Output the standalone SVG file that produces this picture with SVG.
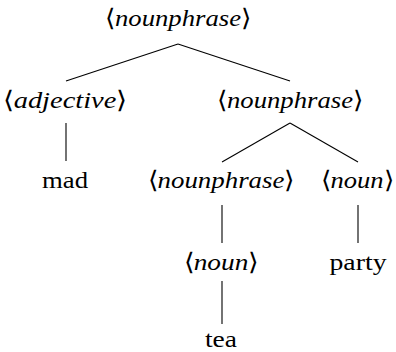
<svg xmlns="http://www.w3.org/2000/svg" width="396" height="352" viewBox="0 0 396 352">
<style>
.lbl{font-family:'Liberation Serif',serif;font-size:24px;fill:#000;text-anchor:middle}
.i{font-style:italic}
.edge{stroke:#000;stroke-width:1.1;fill:none}
</style>
<rect width="396" height="352" fill="#fff"/>
<g id="connectors">
<line class="edge" x1="178" y1="44" x2="66" y2="81"/>
<line class="edge" x1="178" y1="44" x2="290" y2="81"/>
<line class="edge" x1="66" y1="123" x2="66" y2="161"/>
<line class="edge" x1="290" y1="123" x2="222" y2="162"/>
<line class="edge" x1="290" y1="123" x2="358" y2="162"/>
<line class="edge" x1="222" y1="205" x2="222" y2="243"/>
<line class="edge" x1="358" y1="205" x2="358" y2="243"/>
<line class="edge" x1="222" y1="281" x2="222" y2="324"/>
</g>
<g font-family="Liberation Serif, serif" font-size="24">
<g id="n-root"><text class="lbl" x="178" y="26" textLength="146" lengthAdjust="spacingAndGlyphs">⟨<tspan class="i">nounphrase</tspan>⟩</text></g>
<g id="n-adjective"><text class="lbl" x="65" y="108" textLength="124" lengthAdjust="spacingAndGlyphs">⟨<tspan class="i">adjective</tspan>⟩</text></g>
<g id="n-nounphrase1"><text class="lbl" x="290" y="108" textLength="146" lengthAdjust="spacingAndGlyphs">⟨<tspan class="i">nounphrase</tspan>⟩</text></g>
<g id="n-mad"><text class="lbl" x="65" y="188" textLength="46" lengthAdjust="spacingAndGlyphs">mad</text></g>
<g id="n-nounphrase2"><text class="lbl" x="221" y="188" textLength="147" lengthAdjust="spacingAndGlyphs">⟨<tspan class="i">nounphrase</tspan>⟩</text></g>
<g id="n-noun1"><text class="lbl" x="357" y="188" textLength="73" lengthAdjust="spacingAndGlyphs">⟨<tspan class="i">noun</tspan>⟩</text></g>
<g id="n-noun2"><text class="lbl" x="221" y="270" textLength="75" lengthAdjust="spacingAndGlyphs">⟨<tspan class="i">noun</tspan>⟩</text></g>
<g id="n-party"><text class="lbl" x="358" y="270" textLength="57" lengthAdjust="spacingAndGlyphs">party</text></g>
<g id="n-tea"><text class="lbl" x="221" y="347" textLength="32" lengthAdjust="spacingAndGlyphs">tea</text></g>
</g>
</svg>
